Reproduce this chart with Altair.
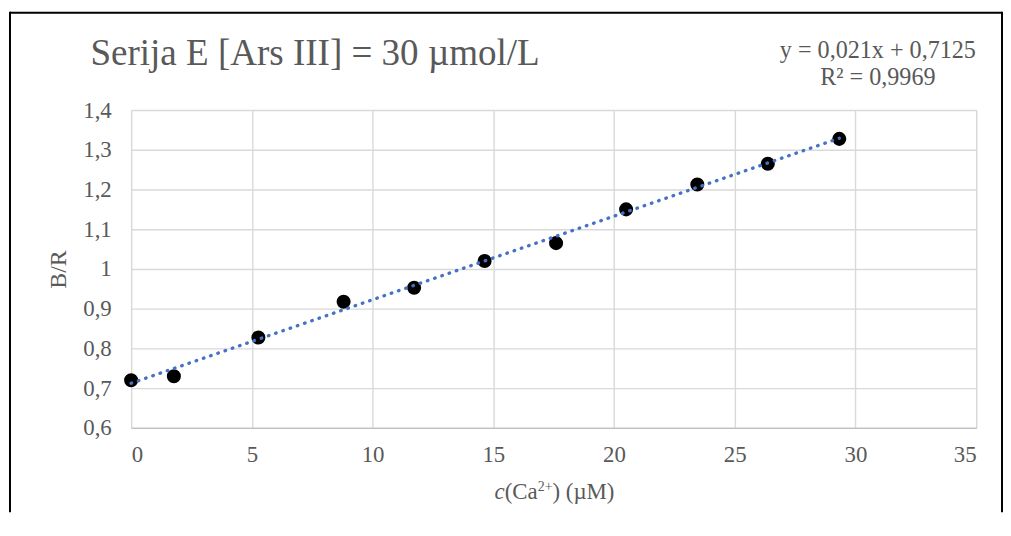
import altair as alt
import pandas as pd

# data
conc = [0, 1.77, 5.27, 8.8, 11.72, 14.64, 17.6, 20.5, 23.45, 26.37, 29.33]
ratio = [0.72, 0.73, 0.8275, 0.9175, 0.9525, 1.02, 1.065, 1.15, 1.2125, 1.265, 1.3275]
x_ticks = [0, 5, 10, 15, 20, 25, 30, 35]
y_ticks = [0.6, 0.7, 0.8, 0.9, 1.0, 1.1, 1.2, 1.3, 1.4]
title_text = ["Serija E [Ars III] = 30 µmol/L"]
eq_text = ["y = 0,021x + 0,7125", "R² = 0,9969"]
x_title_parts = ["c", "(Ca", "2+", ") (µM)"]
y_title = "B/R"

df = pd.DataFrame({"c": conc, "br": ratio})
FONT = "Liberation Serif"
GRAY = "#595959"
FS = 23

xs = alt.Scale(domain=[0, 35], nice=False, zero=False)
ys = alt.Scale(domain=[0.6, 1.4], nice=False, zero=False)

lbl = "replace(format(datum.value, '.1~f'), '.', ',')"

x_axis = alt.Axis(
    values=x_ticks, title=None, grid=True, gridColor="#d9d9d9", gridWidth=1.4,
    domainColor="#bfbfbf", domainWidth=1.4, ticks=False, labelOverlap=False,
    labelFont=FONT, labelFontSize=FS, labelColor=GRAY, labelPadding=16)
y_axis = alt.Axis(
    values=y_ticks, title=y_title, grid=True, gridColor="#d9d9d9", gridWidth=1.4,
    domain=False, ticks=False, labelExpr=lbl, labelOverlap=False,
    labelFont=FONT, labelFontSize=FS, labelColor=GRAY, labelPadding=20,
    titleFont=FONT, titleFontSize=FS + 1, titleColor=GRAY, titleFontWeight="normal",
    titlePadding=12)

base = alt.Chart(df)

points = base.mark_circle(size=200, color="black", opacity=1).encode(
    x=alt.X("c:Q", scale=xs, axis=x_axis),
    y=alt.Y("br:Q", scale=ys, axis=y_axis),
)

trend = base.transform_regression("c", "br").mark_line(
    color="#4472C4", strokeWidth=3.4, strokeDash=[0.5, 7.2], strokeCap="round"
).encode(x=alt.X("c:Q", scale=xs, axis=x_axis), y=alt.Y("br:Q", scale=ys, axis=y_axis))

one = alt.Data(values=[{"a": 1}])

FL, FR, FT, FB = -122, 877, -98, 405
frame_l = alt.Chart(one).mark_rule(color="black", strokeWidth=2).encode(
    x=alt.value(FL), y=alt.value(FT - 1), y2=alt.value(FB))
frame_t = alt.Chart(one).mark_rule(color="black", strokeWidth=2).encode(
    x=alt.value(FL), x2=alt.value(FR), y=alt.value(FT))
frame_r = alt.Chart(one).mark_rule(color="black", strokeWidth=2).encode(
    x=alt.value(FR), y=alt.value(FT - 1), y2=alt.value(FB))

def txt(s, x, y, size, align="left", style="normal"):
    return alt.Chart(one).mark_text(
        font=FONT, fontSize=size, color=GRAY, align=align, fontStyle=style,
        baseline="alphabetic").encode(x=alt.value(x), y=alt.value(y), text=alt.value(s))

title = txt(title_text[0], -41, -45, 37.3)
eq1 = txt(eq_text[0], 752, -52, 24.3, align="center")
eq2 = txt(eq_text[1], 752, -25, 24.3, align="center")

x0 = 366
w_c = 0.444 * FS
w_ca = (0.333 + 0.667 + 0.444) * FS
w_sup = (0.5 + 0.564) * 14
xt_base = 392
xt1 = txt(x_title_parts[0], x0, xt_base, FS, style="italic")
xt2 = txt(x_title_parts[1], x0 + w_c, xt_base, FS)
xt3 = txt(x_title_parts[2], x0 + w_c + w_ca, xt_base - 8, 14)
xt4 = txt(x_title_parts[3], x0 + w_c + w_ca + w_sup, xt_base, FS)

chart = alt.layer(frame_l, frame_t, frame_r, points, trend, title, eq1, eq2,
                  xt1, xt2, xt3, xt4).properties(
    width=851, height=320, padding={"left": 1, "top": 1, "right": 0, "bottom": 0}
).configure_view(strokeWidth=0).configure(background="white")

chart.save("out.html", embed_options={"renderer": "svg", "actions": False})
